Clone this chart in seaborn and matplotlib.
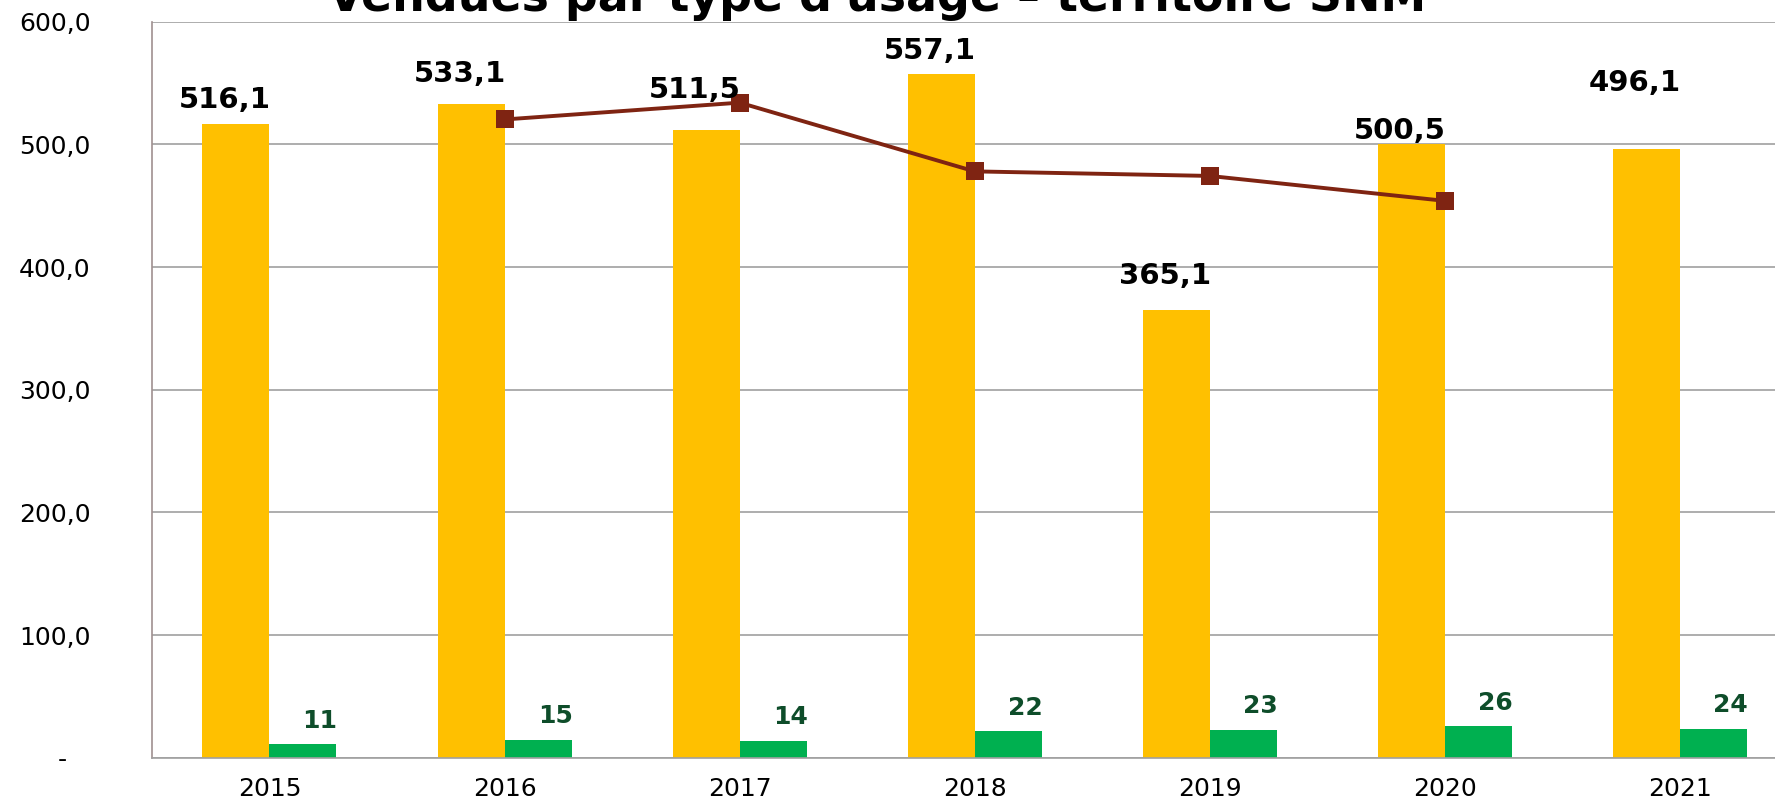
import matplotlib
matplotlib.use("Agg")
import matplotlib.pyplot as plt
import seaborn as sns
import pandas as pd

# data
years = ["2015", "2016", "2017", "2018", "2019", "2020", "2021"]
ventes = [516.1, 533.1, 511.5, 557.1, 365.1, 500.5, 496.1]
autres = [11, 15, 14, 22, 23, 26, 24]
moy_years = ["2016", "2017", "2018", "2019", "2020"]
moy_vals = [520.2, 533.9, 477.9, 474.2, 453.9]

# label heights (data units) for the yellow bar labels, as placed in the reference
label_y = [536, 557, 544, 576, 393, 511, 550]

df = pd.DataFrame({
    "annee": years * 2,
    "valeur": ventes + autres,
    "serie": ["ventes"] * len(years) + ["autres"] * len(years),
})

sns.set_style("white")
plt.rcParams["font.family"] = ["DejaVu Sans"]
plt.rcParams["text.color"] = "black"
plt.rcParams["xtick.color"] = "black"
plt.rcParams["ytick.color"] = "black"

fig = plt.figure(figsize=(17.75, 8.06), dpi=100)
ax = fig.add_axes([0.0856, 0.0596, 0.927, 0.9137])

sns.barplot(data=df, x="annee", y="valeur", hue="serie", order=years,
            palette={"ventes": "#FFC000", "autres": "#00B050"},
            width=0.57, dodge=True, saturation=1, legend=False,
            linewidth=0, ax=ax)

pos = [years.index(y) for y in moy_years]
sns.lineplot(x=pos, y=moy_vals, color="#7F2412", linewidth=2.8,
             marker="s", markersize=13.5, markeredgewidth=0, ax=ax)

# data labels
for i, (v, ly) in enumerate(zip(ventes, label_y)):
    ax.text(i - 0.19, ly, f"{v:.1f}".replace(".", ","), ha="center", va="center",
            fontsize=21, fontweight="bold", color="black")
for i, v in enumerate(autres):
    ax.text(i + 0.215, v + 19, str(v), ha="center", va="center",
            fontsize=18, fontweight="bold", color="#0E4D2A")

ax.set_xlim(-0.5, 6.5)
ax.set_ylim(0, 600)
ax.set_xlabel("")
ax.set_ylabel("")

yt = [0, 100, 200, 300, 400, 500, 600]
ax.set_yticks(yt)
ax.set_yticklabels(["-   "] + [f"{t:.1f}".replace(".", ",") for t in yt[1:]], fontsize=18)
ax.yaxis.grid(True, color="#A0A0A0", linewidth=1.2)
ax.set_axisbelow(True)
ax.tick_params(axis="y", length=12, width=1.2, color="#A0A0A0",
               labelcolor="black", pad=32)

ax.set_xticks([i - 0.5 for i in range(len(years) + 1)])
ax.set_xticklabels([])
ax.set_xticks(range(len(years)), minor=True)
ax.set_xticklabels(years, minor=True, fontsize=18)
ax.tick_params(axis="x", which="major", length=16, width=1.2, color="#A0A0A0")
ax.tick_params(axis="x", which="minor", length=0, pad=14, labelcolor="black")

for s in ["top", "right"]:
    ax.spines[s].set_visible(False)
ax.spines["left"].set_color("#A09090")
ax.spines["left"].set_linewidth(1.2)
ax.spines["bottom"].set_color("#A0A0A0")
ax.spines["bottom"].set_linewidth(1.2)

fig.text(0.494, 1 - 11 / 806, "Vendues par type d'usage \u2013 territoire SNM",
         ha="center", va="baseline", fontsize=33, fontweight="bold", color="black")

fig.savefig("out.png", dpi=100)
